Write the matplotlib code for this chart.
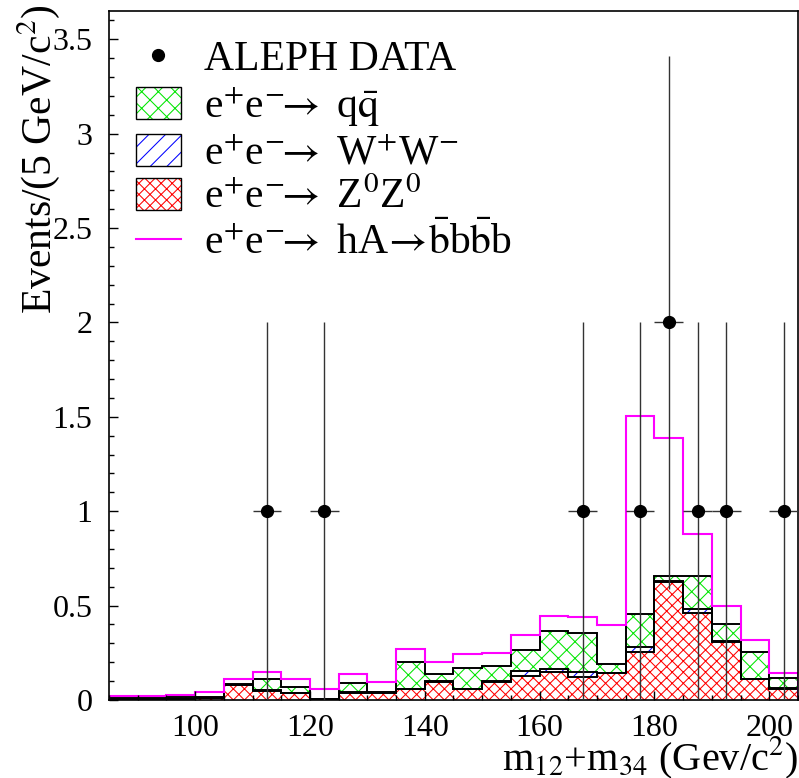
import numpy as np
import matplotlib
matplotlib.use("Agg")
import matplotlib.pyplot as plt
from matplotlib.patches import Patch
from matplotlib.lines import Line2D
from matplotlib.legend_handler import HandlerTuple
from matplotlib.ticker import MultipleLocator, FuncFormatter

plt.rcParams['font.family'] = ['Liberation Serif', 'DejaVu Serif']
plt.rcParams['mathtext.fontset'] = 'stix'
plt.rcParams['hatch.linewidth'] = 0.75

# 5 GeV bins from 85 to 205
edges = np.arange(85, 206, 5)

zz = [0.004, 0.004, 0.006, 0.012, 0.080, 0.050, 0.035, 0.003, 0.039, 0.038, 0.056, 0.098,
      0.056, 0.098, 0.129, 0.148, 0.124, 0.141, 0.256, 0.627, 0.463, 0.309, 0.111, 0.060]
ww = [0.001, 0.001, 0.001, 0.001, 0.002, 0.003, 0.002, 0.001, 0.002, 0.002, 0.002, 0.002,
      0.002, 0.002, 0.026, 0.016, 0.023, 0.002, 0.027, 0.005, 0.018, 0.003, 0.002, 0.002]
qq = [0.004, 0.004, 0.011, 0.005, 0.003, 0.057, 0.033, 0.003, 0.047, 0.000, 0.145, 0.036,
      0.110, 0.082, 0.112, 0.200, 0.206, 0.048, 0.171, 0.025, 0.176, 0.088, 0.143, 0.053]
hA = [0.013, 0.013, 0.010, 0.026, 0.025, 0.040, 0.040, 0.051, 0.050, 0.057, 0.067, 0.064,
      0.076, 0.067, 0.078, 0.083, 0.089, 0.207, 1.048, 0.729, 0.225, 0.098, 0.060, 0.026]

data_x = [112.5, 122.5, 167.5, 177.5, 182.5, 187.5, 192.5, 202.5]
data_n = [1, 1, 1, 1, 2, 1, 1, 1]

GREEN = '#00e600'
RED = '#ff0000'
BLUE = '#0000ff'
MAGENTA = '#ff00ff'

zz = np.array(zz)
ww = np.array(ww)
qq = np.array(qq)
hA = np.array(hA)

lvl_zz = zz
lvl_ww = zz + ww
lvl_qq = zz + ww + qq
lvl_hA = lvl_qq + hA

fig = plt.figure(figsize=(7.99, 7.78), dpi=100)
ax = fig.add_axes([109 / 799, 78 / 778, 689 / 799, 689 / 778])

# hatched fills
ax.stairs(lvl_zz, edges, baseline=0, fill=True, facecolor='none',
          edgecolor=RED, hatch='xxx', linewidth=0)
ax.stairs(lvl_ww, edges, baseline=lvl_zz, fill=True, facecolor='none',
          edgecolor=BLUE, hatch='//', linewidth=0)
ax.stairs(lvl_qq, edges, baseline=lvl_ww, fill=True, facecolor='none',
          edgecolor=GREEN, hatch='xx', linewidth=0)

# black outlines
for lvl in (lvl_zz, lvl_ww, lvl_qq):
    ax.stairs(lvl, edges, color='k', linewidth=1.4)

ax.stairs(lvl_hA, edges, color=MAGENTA, linewidth=1.5)

yerr = np.sqrt(data_n)
ax.errorbar(data_x, data_n, xerr=2.5, yerr=yerr, fmt='o', color='k',
            ecolor='#333333', elinewidth=1.0, markersize=8.5, capsize=0, zorder=5)

ax.set_xlim(85, 205)
ax.set_ylim(0, 3.65)
ax.xaxis.set_major_locator(MultipleLocator(20))
ax.xaxis.set_minor_locator(MultipleLocator(5))
ax.yaxis.set_major_locator(MultipleLocator(0.5))
ax.yaxis.set_minor_locator(MultipleLocator(0.1))
ax.yaxis.set_major_formatter(FuncFormatter(lambda v, p: f"{v:g}"))
ax.tick_params(which='both', direction='in', top=False, right=False, width=1.0)
ax.tick_params(which='major', length=6.5, labelsize=23)
ax.tick_params(axis='x', which='major', pad=10)
ax.tick_params(axis='y', which='major', pad=12)
ax.tick_params(which='minor', length=3.5)
for s in ax.spines.values():
    s.set_linewidth(1.2)

ax.set_ylabel(r"Events/(5 GeV/c$^{2}$)", fontsize=30, loc='top')
ax.yaxis.set_label_coords(-0.068, 1.01)
ax.set_xlabel(r"m$_{12}$+m$_{34}$ (Gev/c$^{2}$)", fontsize=29, loc='right')
ax.xaxis.set_label_coords(1.0, -0.05)


def boxed(color, hatch):
    return (Patch(facecolor='none', edgecolor=color, hatch=hatch, linewidth=0),
            Patch(facecolor='none', edgecolor='k', linewidth=1.0))


handles = [
    Line2D([], [], marker='o', color='k', linestyle='none', markersize=8.5),
    boxed(GREEN, 'xx'),
    boxed(BLUE, '//'),
    boxed(RED, 'xxx'),
    Line2D([], [], color=MAGENTA, linewidth=1.5),
]
labels = [
    "ALEPH DATA",
    r"e$^{+}$e$^{-}\!\!\rightarrow$ q$\bar{\mathrm{q}}$",
    r"e$^{+}$e$^{-}\!\!\rightarrow$ W$^{+}$W$^{-}$",
    r"e$^{+}$e$^{-}\!\!\rightarrow$ Z$^{0}$Z$^{0}$",
    r"e$^{+}$e$^{-}\!\!\rightarrow$ hA$\!\rightarrow\!\bar{\mathrm{b}}$b$\bar{\mathrm{b}}$b",
]
leg = ax.legend(handles, labels, loc='upper left', bbox_to_anchor=(0.039, 0.958),
                frameon=False, fontsize=30, handlelength=1.08, handleheight=0.8,
                handletextpad=0.55, labelspacing=0.12, borderpad=0, borderaxespad=0,
                handler_map={tuple: HandlerTuple(ndivide=1, pad=0)})

fig.savefig("out.png", dpi=100)
